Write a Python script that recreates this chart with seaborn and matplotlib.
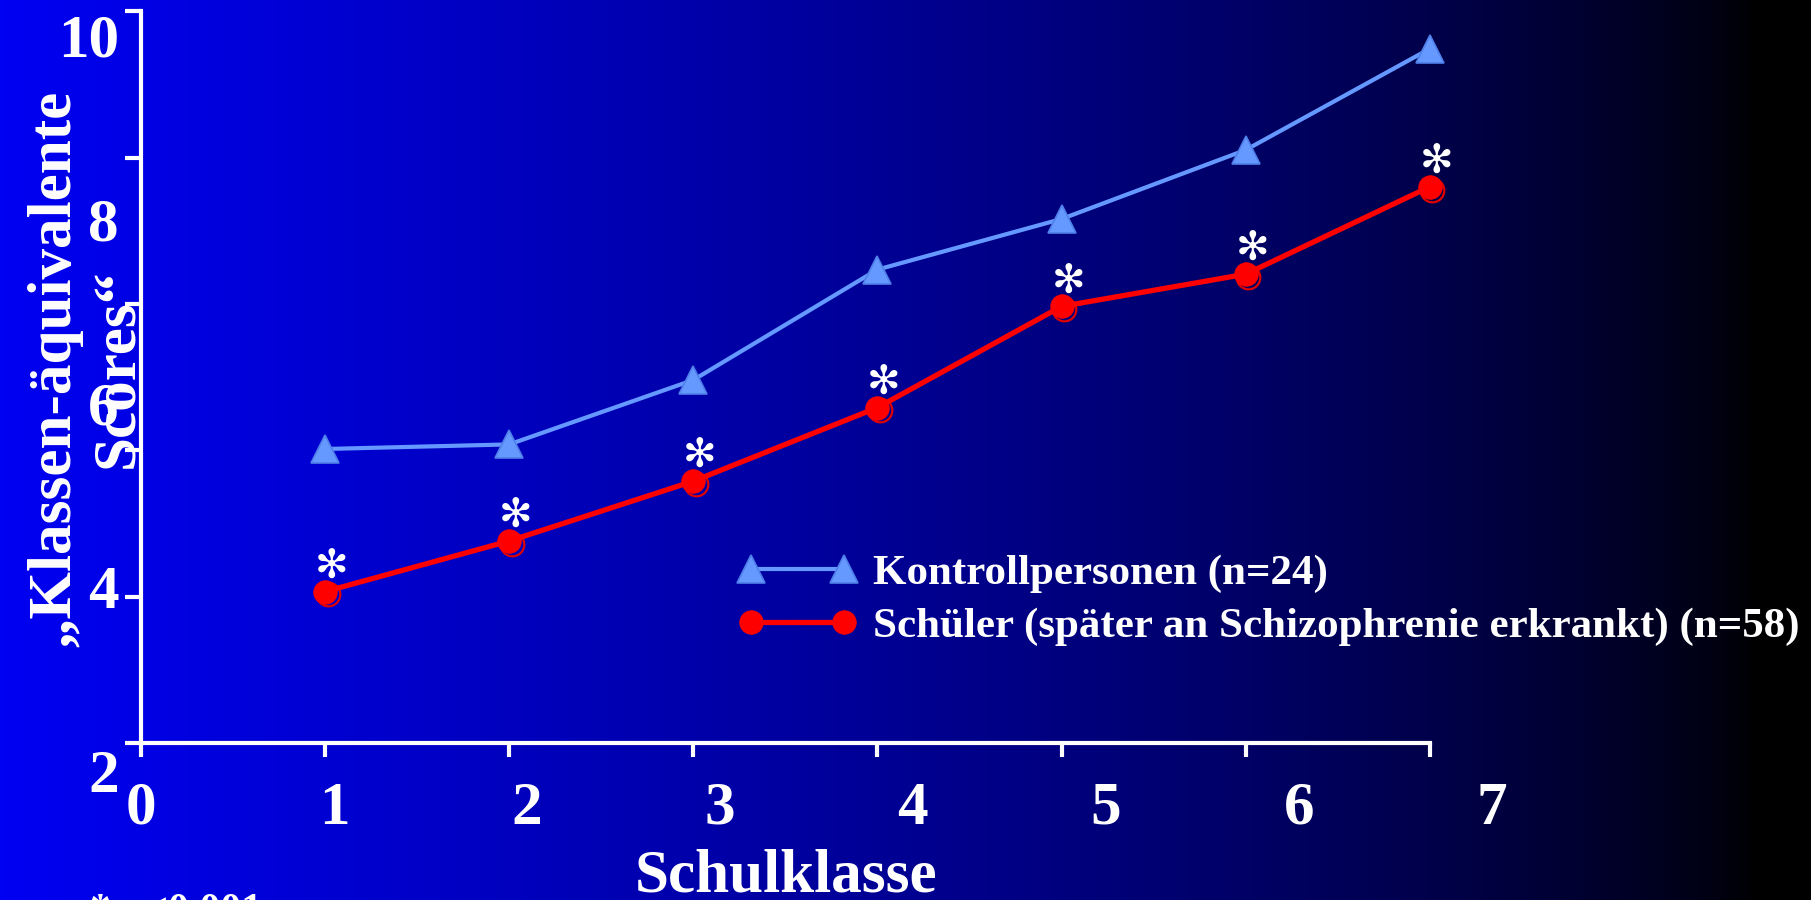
import numpy as np
import matplotlib
matplotlib.use("Agg")
import matplotlib.pyplot as plt
import matplotlib.transforms as mtransforms
import seaborn as sns

# ---- data -------------------------------------------------------------
grades = [1, 2, 3, 4, 5, 6, 7]
kontroll = [5.5, 5.55, 6.25, 7.45, 8.0, 8.75, 9.85]
schueler = [3.95, 4.5, 5.15, 5.95, 7.05, 7.4, 8.35]
significant = [True, True, True, True, True, True, True]

x_ticks = [0, 1, 2, 3, 4, 5, 6, 7]
x_tick_labels = ["0", "1", "2", "3", "4", "5", "6", "7"]
y_tick_values = [2, 4, 6, 8, 10]
y_tick_labels = ["2", "4", "6", "8", "10"]

label_kontroll = "Kontrollpersonen (n=24)"
label_schueler = "Schüler (später an Schizophrenie erkrankt) (n=58)"
y_title = "\u201eKlassen-äquivalente\nScores\u201c"
x_title = "Schulklasse"
footnote = "* p<0.001"

# ---- style ------------------------------------------------------------
sns.set_style("ticks")
plt.rcParams["font.family"] = ["Liberation Serif", "DejaVu Sans"]
plt.rcParams["font.weight"] = "bold"

W, H = 1811, 900
BLUE = "#6699FF"
RED = "#FF0000"
WHITE = "white"

fig = plt.figure(figsize=(W / 100, H / 100), dpi=100)
fig.patch.set_facecolor("black")

# horizontal blue-to-black gradient behind everything
bg = fig.add_axes([0, 0, 1, 1], zorder=-10)
t = np.linspace(0, 1, 800)
blue_ch = np.clip((0.97 - t) / 0.97, 0, 1) ** 0.7 * 0.95
grad = np.zeros((2, t.size, 3))
grad[:, :, 2] = blue_ch
bg.imshow(grad, aspect="auto", extent=[0, 1, 0, 1], interpolation="bilinear")
bg.set_axis_off()

# main axes (y spine at x=0, x axis at AX_LO)
AX_LO, AX_HI = 2.30, 10.26
ax = fig.add_axes([141 / W, 0.11267, 0.7726, 0.8791])
ax.set_facecolor("none")
ax.set_xlim(0, 7.6)
ax.set_ylim(1.7, 10.3)

sns.lineplot(x=grades, y=kontroll, ax=ax, color=BLUE, linewidth=3,
             marker="^", markersize=20, markeredgecolor="#4F7FE8",
             markeredgewidth=1.2, label=label_kontroll, zorder=3)

# offset outline under the red markers
shadow = ax.transData + mtransforms.ScaledTranslation(2 / 72, -2 / 72, fig.dpi_scale_trans)
ax.plot(grades, schueler, ls="none", marker="o", markersize=17,
        markerfacecolor="none", markeredgecolor="#E00000", markeredgewidth=1.6,
        transform=shadow, zorder=3)
sns.lineplot(x=grades, y=schueler, ax=ax, color=RED, linewidth=3.8,
             marker="o", markersize=17, markeredgecolor=RED,
             markeredgewidth=0.5, label=label_schueler, zorder=4)

# significance marks
for g, v, s in zip(grades, schueler, significant):
    if s:
        ax.annotate("\u273B", (g, v), xytext=(4.8, 18), textcoords="offset points",
                    ha="center", va="center", fontsize=29, color=WHITE,
                    family="DejaVu Sans", zorder=5)

# spines
for side in ("top", "right"):
    ax.spines[side].set_visible(False)
ax.spines["left"].set_bounds(AX_LO, AX_HI)
ax.spines["bottom"].set_position(("data", AX_LO))
ax.spines["bottom"].set_bounds(0, 7)
for side in ("left", "bottom"):
    ax.spines[side].set_color(WHITE)
    ax.spines[side].set_linewidth(3)

# tick marks (major) and their labels (minor, zero-length)
ax.xaxis.remove_overlapping_locs = False
ax.yaxis.remove_overlapping_locs = False
ax.set_xticks(x_ticks)
ax.set_xticks([x * 1.048 for x in x_ticks], labels=x_tick_labels, minor=True)
ax.set_yticks(np.linspace(AX_LO, AX_HI, 6))
ax.set_yticks(y_tick_values, labels=y_tick_labels, minor=True)

ax.tick_params(axis="x", which="major", direction="out", length=10, width=3,
               color=WHITE, labelbottom=False)
ax.tick_params(axis="x", which="minor", length=0, pad=27, labelsize=44,
               labelcolor=WHITE)
ax.tick_params(axis="y", which="major", direction="out", length=11.5, width=3,
               color=WHITE, labelleft=False)
ax.tick_params(axis="y", which="minor", length=0, pad=16, labelsize=44,
               labelcolor=WHITE)
ax.set_xlabel("")
ax.set_ylabel("")

# legend
handles, labels = ax.get_legend_handles_labels()
ax.legend(handles, labels, loc="center left",
          bbox_to_anchor=(738.5 / W, 300 / H), bbox_transform=fig.transFigure,
          frameon=False, fontsize=31, numpoints=2, handlelength=2.76,
          handletextpad=0.36, labelspacing=0.33, borderpad=0, borderaxespad=0,
          labelcolor=WHITE)

# titles and footnote
fig.text(86 / W, 1 - 368 / H, y_title, rotation=90, ha="center", va="center",
         multialignment="center", fontsize=44, color=WHITE, linespacing=1.18)
fig.text(786 / W, 1 - 892 / H, x_title, ha="center", va="baseline",
         fontsize=44, color=WHITE)
fig.text(90 / W, 1 - 893 / H, footnote, ha="left", va="top",
         fontsize=30, color=WHITE)

fig.savefig("out.png", dpi=100, facecolor=fig.get_facecolor())
